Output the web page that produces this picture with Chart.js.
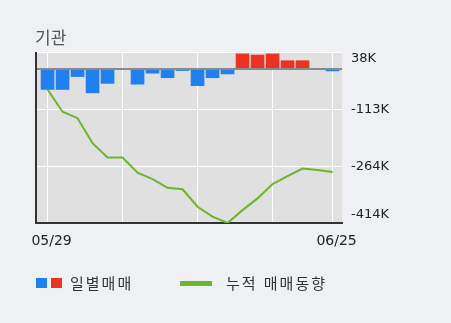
<!DOCTYPE html>
<html lang="ko">
<head>
<meta charset="utf-8">
<script src="https://cdn.jsdelivr.net/npm/chart.js@4"></script>
<style>
  body { margin: 0; background: #eef0f4; }
  #wrap { position: relative; width: 451px; height: 323px; }
  #chart { position: absolute; left: 0; top: 0; }
  #title { position: absolute; left: 35px; top: 28px; font: 17px "Noto Sans CJK KR"; line-height: 17px; color: #555; }
  .lg { position: absolute; top: 275px; font: 15px "Noto Sans CJK KR"; line-height: 15px; color: #333; letter-spacing: 2px; white-space: nowrap; }
  .sq { position: absolute; top: 278px; width: 11px; height: 10px; }
</style>
</head>
<body>
<div id="wrap">
  <canvas id="chart" width="451" height="323"></canvas>
  <div id="title">기관</div>
  <div class="sq" style="left:36px;background:#2080f0"></div>
  <div class="sq" style="left:51px;background:#eb3223"></div>
  <div class="lg" style="left:70px">일별매매</div>
  <div style="position:absolute;left:180px;top:281px;width:32px;height:5px;background:#6cb52d"></div>
  <div class="lg" style="left:226px">누적 매매동향</div>
</div>
<script>
// 날짜 (2020)
const categories = ['05/29', '06/01', '06/02', '06/03', '06/04', '06/05', '06/08', '06/09', '06/10', '06/11',
                    '06/12', '06/15', '06/16', '06/17', '06/18', '06/19', '06/22', '06/23', '06/24', '06/25'];
// 일별매매 (천주)
const daily = [-54, -54, -20, -63, -38, 0, -40, -11, -23, -4, -44, -23, -13, 40, 37, 40, 22, 22, 0, -5];
// 누적 매매동향 (천주)
const cumulative = [-61, -120, -137, -203, -241, -241, -281, -298, -321, -325,
                    -371, -397, -414, -380, -349, -311, -290, -270, -274, -279];
const yTickValues = [38, -113, -264, -414];
const yTickLabels = ['38K', '-113K', '-264K', '-414K'];
const xGridIndexes = [0, 5, 10, 15, 19];
const xLabelIndexes = [0, 19];

const BLUE = '#2080f0', RED = '#eb3223', GREEN = '#6cb52d';

const decor = {
    id: 'decor',
    beforeDraw(chart) {
        const { ctx, chartArea: a } = chart;
        ctx.save();
        ctx.fillStyle = '#e0e0e0';
        ctx.fillRect(a.left, a.top, a.right - a.left, a.bottom - a.top);
        ctx.restore();
    },
    afterDatasetsDraw(chart) {
        const { ctx, chartArea: a } = chart;
        const y0 = chart.scales.yBar.getPixelForValue(0);
        ctx.save();
        ctx.strokeStyle = '#8a8a8a';
        ctx.lineWidth = 2;
        ctx.beginPath();
        ctx.moveTo(a.left, y0);
        ctx.lineTo(a.right, y0);
        ctx.stroke();
        ctx.restore();
    },
    afterDraw(chart) {
        const { ctx, chartArea: a } = chart;
        const ys = chart.scales.y;
        ctx.save();
        // 왼쪽 축선
        ctx.strokeStyle = '#333';
        ctx.lineWidth = 2;
        ctx.beginPath();
        ctx.moveTo(a.left, a.top);
        ctx.lineTo(a.left, a.bottom + 1);
        ctx.stroke();
        // y축 라벨
        ctx.fillStyle = '#222';
        ctx.font = '13px "DejaVu Sans"';
        ctx.textAlign = 'left';
        ctx.textBaseline = 'middle';
        yTickValues.forEach((v, i) => {
            let y = ys.getPixelForValue(v);
            y = Math.min(Math.max(y, a.top + 7), a.bottom - 8);
            ctx.fillText(yTickLabels[i], a.right + 9, y);
        });
        ctx.restore();
    }
};

new Chart(document.getElementById('chart'), {
    type: 'bar',
    data: {
        datasets: [{
            type: 'line',
            label: '누적 매매동향',
            data: cumulative.map((v, i) => ({ x: i, y: v })),
            borderColor: GREEN,
            borderWidth: 2,
            pointRadius: 0,
            tension: 0,
            yAxisID: 'y',
            order: 0
        }, {
            label: '일별매매',
            data: daily.map((v, i) => ({ x: i, y: v })),
            backgroundColor: daily.map(v => v >= 0 ? RED : BLUE),
            barThickness: 13,
            grouped: false,
            yAxisID: 'yBar',
            order: 1
        }]
    },
    options: {
        responsive: false,
        animation: false,
        layout: { padding: { left: 36, top: 52, right: 0, bottom: 0 } },
        plugins: { legend: { display: false }, tooltip: { enabled: false } },
        scales: {
            x: {
                type: 'linear',
                offset: false,
                min: -0.77,
                max: 19.63,
                afterBuildTicks: s => { s.ticks = xGridIndexes.map(v => ({ value: v })); },
                afterFit: s => { s.height = 100; },
                grid: { color: '#ffffff', lineWidth: 1, drawTicks: false, offset: false },
                border: { display: true, color: '#333', width: 2 },
                ticks: {
                    autoSkip: false,
                    maxRotation: 0,
                    padding: 10,
                    labelOffset: 4,
                    color: '#222',
                    font: { family: 'DejaVu Sans', size: 14 },
                    callback: v => xLabelIndexes.includes(v) ? categories[v] : ''
                }
            },
            y: {
                position: 'right',
                min: -414,
                max: 38,
                afterBuildTicks: s => { s.ticks = yTickValues.map(v => ({ value: v })); },
                afterFit: s => { s.width = 109; },
                grid: { color: '#ffffff', lineWidth: 1, drawTicks: false },
                border: { display: false },
                ticks: { display: false }
            },
            yBar: {
                display: false,
                min: -407,
                max: 45
            }
        }
    },
    plugins: [decor]
});
</script>
</body>
</html>
